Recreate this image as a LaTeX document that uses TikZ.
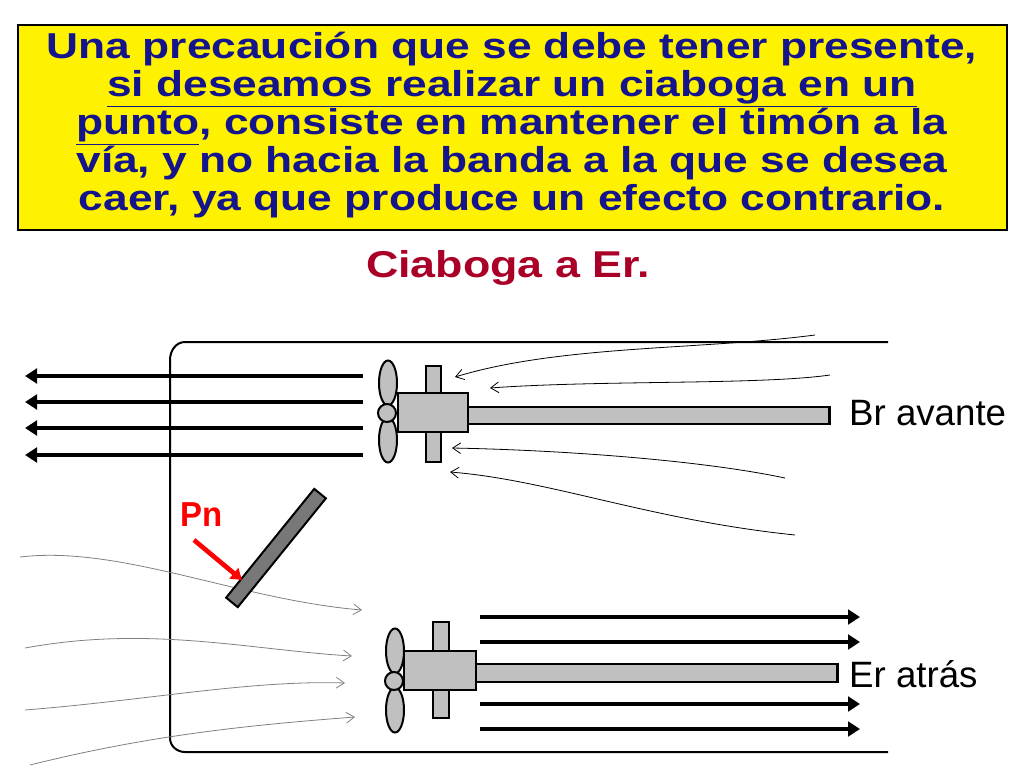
\documentclass[tikz,border=0pt]{standalone}
\usepackage{fontspec}
\setmainfont{Liberation Sans}
\usetikzlibrary{arrows.meta,shapes.geometric}
\definecolor{navy}{RGB}{20,20,140}
\definecolor{dred}{RGB}{170,0,40}
\definecolor{pgrey}{RGB}{192,192,192}
\definecolor{rgrey}{RGB}{120,120,120}
\begin{document}
\begin{tikzpicture}[x=0.75pt,y=-0.75pt,
  part/.style={draw=black,line width=2.2pt,fill=pgrey},
  blade/.style={draw=black,line width=1.5pt,fill=pgrey},
  jet/.style={line width=3.5pt,-{Triangle[length=9pt,width=11pt]}},
  flow/.style={line width=0.6pt,-{Straight Barb[length=6pt,width=8pt]}},
  gflow/.style={flow,draw=gray},
  lbl/.style={font=\fontsize{25}{27}\selectfont,anchor=west,xscale=1.1,yscale=1.1}]
\useasboundingbox (0,0) rectangle (1024,768);
\node[draw=black,line width=0.8pt,fill=yellow,minimum width=989*0.75pt,minimum height=205*0.75pt] (box) at (512.5,127.5) {};
\node[text=navy,font=\fontsize{27}{28.5}\bfseries\selectfont,align=center,xscale=1.23] (txt) at (512,125)
{Una precaución que se debe tener presente,\\
\underline{si deseamos realizar un ciaboga en un}\\
\underline{punto}, consiste en mantener el timón a la\\
vía, y no hacia la banda a la que se desea\\
caer, ya que produce un efecto contrario.};
\node[text=dred,font=\fontsize{28}{30}\bfseries\selectfont,xscale=1.2] (title) at (508,268) {Ciaboga a Er.};
% hull
\draw[line width=1.5pt] (888,342) -- (185,342) to[out=180,in=90] (170,360) -- (170,738) to[out=-90,in=180] (185,752) -- (888,752);
% flows top right
\draw[flow] (815,335) .. controls (700,350) and (560,345) .. (455,377);
\draw[flow] (830,375) .. controls (760,385) and (600,380) .. (490,388);
\draw[flow] (785,478) .. controls (700,460) and (560,450) .. (452,448);
\draw[flow] (795,535) .. controls (650,520) and (550,480) .. (450,472);
% grey flows bottom left
\draw[gflow] (20,557) .. controls (120,545) and (240,600) .. (362,610);
\draw[gflow] (25,648) .. controls (150,625) and (250,650) .. (352,656);
\draw[gflow] (25,710) .. controls (150,700) and (250,680) .. (345,683);
\draw[gflow] (30,765) .. controls (150,735) and (250,725) .. (355,717);
% left jets
\foreach \y in {376,402,428,455} \draw[jet] (363,\y) -- (25,\y);
% right jets
\foreach \y in {617,642,704,729} \draw[jet] (480,\y) -- (860,\y);
% top propeller assembly
\node[part,minimum width=15*0.75pt,minimum height=96*0.75pt,inner sep=0] (rs1) at (433.5,414) {};
\node[part,minimum width=362*0.75pt,minimum height=17*0.75pt,inner sep=0,anchor=west] (sh1) at (466,415.5) {};
\node[part,minimum width=70*0.75pt,minimum height=39*0.75pt,inner sep=0] (bd1) at (433,412.5) {};
\node[blade,ellipse,minimum width=18*0.75pt,minimum height=45*0.75pt,inner sep=0] (b1a) at (388,383) {};
\node[blade,ellipse,minimum width=18*0.75pt,minimum height=45*0.75pt,inner sep=0] (b1b) at (388,440) {};
\node[blade,ellipse,minimum width=18*0.75pt,minimum height=18*0.75pt,inner sep=0] (h1) at (387,413) {};
% bottom propeller assembly
\node[part,minimum width=16*0.75pt,minimum height=96*0.75pt,inner sep=0] (rs2) at (441,670) {};
\node[part,minimum width=362*0.75pt,minimum height=18*0.75pt,inner sep=0,anchor=west] (sh2) at (474,673) {};
\node[part,minimum width=72*0.75pt,minimum height=39*0.75pt,inner sep=0] (bd2) at (440,670.5) {};
\node[blade,ellipse,minimum width=18*0.75pt,minimum height=45*0.75pt,inner sep=0] (b2a) at (395,651) {};
\node[blade,ellipse,minimum width=18*0.75pt,minimum height=45*0.75pt,inner sep=0] (b2b) at (395,710) {};
\node[blade,ellipse,minimum width=18*0.75pt,minimum height=18*0.75pt,inner sep=0] (h2) at (394,681) {};
% rudder
\node[draw=black,line width=1.5pt,fill=rgrey,minimum width=140*0.75pt,minimum height=15*0.75pt,inner sep=0,rotate=51] (rud) at (276,548) {};
\node[text=red,font=\fontsize{26}{28}\bfseries\selectfont,xscale=0.95] (pn) at (202,515) {Pn};
\coordinate (pnt) at (242,580);
\draw[red,line width=3.5pt,-{Triangle[length=8pt,width=10pt]}] (194,540) -- (pnt);
\node[lbl] (br) at (844,413) {Br avante};
\node[lbl] (er) at (844,674) {Er atrás};
\end{tikzpicture}
\end{document}
